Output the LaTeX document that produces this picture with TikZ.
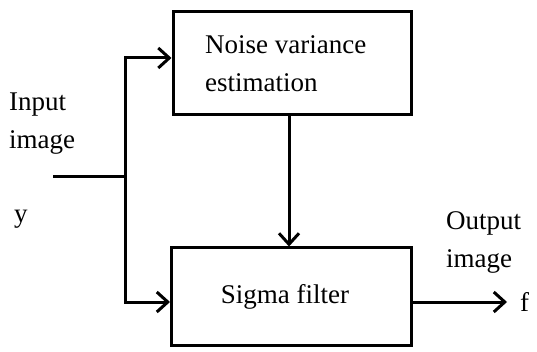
\documentclass[tikz,border=0pt]{standalone}
\usepackage{fontspec}
\setmainfont{Liberation Serif}
\usetikzlibrary{arrows.meta,positioning}

\tikzset{
  blockbox/.style={draw, line width=3pt, inner sep=0pt},
  wire/.style={line width=3pt},
  arrowwire/.style={wire, -{Straight Barb[length=11pt,width=20pt]}},
  lbl/.style={font=\fontsize{27}{38}\selectfont, inner sep=0pt, align=left}
}

\begin{document}
\begin{tikzpicture}[x=1pt, y=-1pt]
  \useasboundingbox (0,0) rectangle (537,352);

  % Blocks
  \node[blockbox, minimum width=238pt, minimum height=103pt] (nve) at (292,63.5) {};
  \node[blockbox, minimum width=240pt, minimum height=97pt] (sf) at (291.5,296.5) {};
  \node[lbl, anchor=west] (nvetext) at (205,64) {Noise variance\\estimation};
  \node[lbl] (sftext) at (285,297) {Sigma filter};

  % Labels
  \node[lbl, anchor=west] (inlbl) at (9,124) {Input\\image};
  \node[lbl, anchor=west] (ylbl) at (14,219) {y};
  \node[lbl, anchor=west] (outlbl) at (446,242) {Output\\image};
  \node[lbl, anchor=west] (flbl) at (520,302) {f};

  % Wires
  \coordinate (in) at (53,177);
  \coordinate (split) at (125,177);
  \coordinate (jtop) at (125,58);
  \coordinate (jbot) at (125,302);
  \coordinate (out) at (507,302);

  \draw[wire] (in) -- (split);
  \draw[arrowwire] (split) -- (jtop) -- (nve.west |- jtop);
  \draw[arrowwire] (split) -- (jbot) -- (sf.west |- jbot);
  \draw[arrowwire] (nve.south -| 289,0) -- (sf.north -| 289,0);
  \draw[arrowwire] (sf.east |- jbot) -- (out);
\end{tikzpicture}
\end{document}
